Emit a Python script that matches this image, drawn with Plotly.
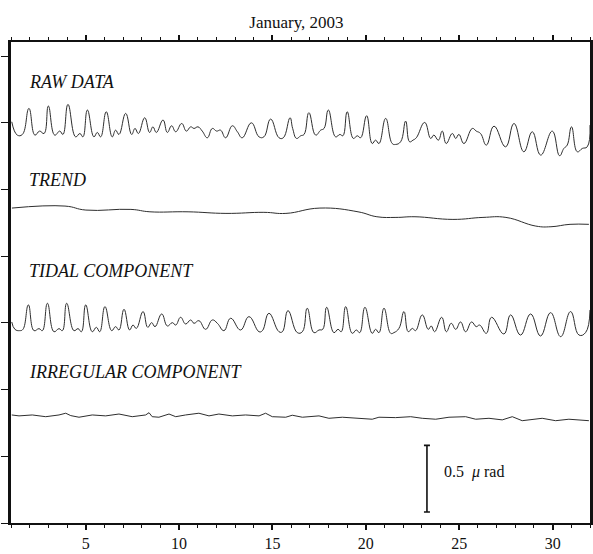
import plotly.graph_objects as go

# ---- data: day of January 2003 and tilt (micro-radian) for each series ----
raw_t = [1.04, 1.34, 1.61, 1.96, 2.28, 2.53, 2.77, 3.00, 3.34, 3.61, 3.78, 4.05,
         4.46, 4.69, 4.85, 5.09, 5.44, 5.62, 5.80, 6.10, 6.42, 6.60, 6.78, 7.14,
         7.46, 7.64, 7.82, 8.16, 8.42, 8.60, 8.78, 9.14, 9.37, 9.60, 9.82, 10.14,
         10.39, 10.62, 10.80, 11.01, 11.24, 11.51, 11.78, 12.01, 12.22, 12.49,
         12.85, 13.12, 13.38, 13.87, 14.28, 14.54, 14.90, 15.35, 15.58, 15.94,
         16.08, 16.29, 16.51, 16.69, 16.95, 17.31, 17.58, 17.76, 17.99, 18.38,
         18.61, 18.77, 19.00, 19.33, 19.54, 19.72, 20.04, 20.34, 20.52, 20.70,
         21.06, 21.41, 21.59, 21.86, 22.13, 22.34, 22.52, 22.70, 23.15, 23.47,
         23.64, 23.88, 24.09, 24.30, 24.63, 24.81, 24.98, 25.25, 25.70, 25.91,
         26.14, 26.45, 26.86, 27.48, 27.93, 28.46, 28.91, 29.36, 29.98, 30.37,
         30.60, 30.78, 31.01, 31.32, 31.59, 31.85, 32.00]
raw_v = [-0.005, -0.105, -0.100, 0.095, -0.105, -0.075, -0.093, 0.113, -0.105,
         -0.075, -0.100, 0.125, -0.118, -0.093, -0.118, 0.083, -0.118, -0.085,
         -0.118, 0.070, -0.118, -0.068, -0.100, 0.058, -0.100, -0.055, -0.093,
         0.025, -0.085, -0.043, -0.085, 0.008, -0.085, -0.035, -0.080, -0.018,
         -0.075, -0.043, -0.055, -0.043, -0.075, -0.125, -0.055, -0.075, -0.068,
         -0.125, -0.035, -0.080, -0.125, -0.013, -0.118, -0.118, 0.015, -0.125,
         -0.125, 0.025, -0.055, -0.130, -0.110, -0.100, 0.063, -0.105, -0.068,
         -0.055, 0.083, -0.118, -0.100, -0.110, 0.070, -0.130, -0.110, -0.125,
         0.040, -0.168, -0.143, -0.168, 0.020, -0.168, -0.175, -0.155, 0.000,
         -0.155, -0.143, -0.125, -0.010, -0.130, -0.105, -0.143, -0.075, -0.168,
         -0.093, -0.130, -0.100, -0.168, -0.055, -0.075, -0.093, -0.180, -0.038,
         -0.193, -0.018, -0.230, -0.080, -0.255, -0.075, -0.260, -0.205, -0.180,
         -0.043, -0.230, -0.205, -0.193, -0.030]

trend_t = [1.05, 3.89, 5.01, 7.42, 8.44, 10.48, 12.51, 14.54, 15.72, 17.54,
           19.58, 20.59, 21.61, 22.63, 24.66, 26.27, 27.50, 29.10, 29.91, 30.93,
           31.94]
trend_v = [0.000, 0.015, -0.015, -0.010, -0.028, -0.028, -0.040, -0.032, -0.040,
           0.000, -0.028, -0.065, -0.070, -0.065, -0.085, -0.070, -0.070, -0.135,
           -0.140, -0.122, -0.122]

tidal_t = [1.04, 1.21, 1.46, 1.64, 1.93, 2.23, 2.50, 2.68, 2.95, 3.30, 3.57, 3.75,
           3.98, 4.37, 4.59, 4.77, 5.00, 5.35, 5.57, 5.75, 6.03, 6.39, 6.60, 6.78,
           7.05, 7.35, 7.53, 7.71, 8.07, 8.32, 8.53, 8.71, 9.07, 9.37, 9.64, 9.82,
           10.08, 10.35, 10.62, 10.80, 11.06, 11.42, 11.78, 12.05, 12.40, 12.76,
           13.29, 13.74, 14.28, 14.46, 14.81, 15.35, 15.53, 15.83, 16.33, 16.60,
           16.86, 17.22, 17.49, 17.69, 17.90, 18.29, 18.51, 18.68, 18.92, 19.27,
           19.49, 19.67, 19.95, 20.34, 20.52, 20.70, 20.97, 21.33, 21.50, 21.77,
           22.04, 22.27, 22.49, 22.66, 23.02, 23.34, 23.50, 23.68, 24.06, 24.31,
           24.57, 24.81, 25.07, 25.34, 25.66, 25.91, 26.09, 26.45, 26.73, 27.39,
           27.75, 28.28, 28.82, 29.35, 29.89, 30.43, 30.96, 31.41, 31.76, 32.00]
tidal_v = [0.000, -0.055, -0.065, -0.055, 0.128, -0.065, -0.050, -0.065, 0.140,
           -0.073, -0.050, -0.065, 0.140, -0.065, -0.050, -0.073, 0.128, -0.073,
           -0.040, -0.073, 0.115, -0.065, -0.035, -0.060, 0.095, -0.060, -0.023,
           -0.048, 0.078, -0.040, -0.005, -0.035, 0.060, -0.030, -0.005, -0.023,
           0.035, -0.015, 0.015, -0.010, 0.010, -0.055, 0.015, -0.010, -0.065,
           0.028, -0.060, 0.040, -0.073, -0.065, 0.065, -0.073, -0.073, 0.085,
           -0.080, -0.073, 0.103, -0.080, -0.060, -0.055, 0.110, -0.080, -0.055,
           -0.073, 0.115, -0.085, -0.060, -0.080, 0.110, -0.085, -0.055, -0.080,
           0.103, -0.085, -0.080, -0.048, 0.078, -0.073, -0.048, -0.065, 0.053,
           -0.055, -0.030, -0.073, 0.035, -0.073, -0.010, -0.055, 0.000, -0.073,
           0.000, -0.035, -0.023, -0.085, 0.035, -0.090, 0.053, -0.098, 0.060,
           -0.105, 0.070, -0.110, 0.078, -0.098, -0.080, 0.090]

irr_t = [1.04, 1.43, 2.14, 2.86, 3.57, 3.93, 4.20, 4.64, 5.35, 6.07, 6.78, 7.49,
         8.21, 8.39, 8.56, 8.92, 9.46, 9.82, 10.35, 11.06, 11.60, 12.13, 12.85,
         13.56, 14.28, 14.63, 14.99, 15.71, 16.06, 16.60, 17.49, 18.02, 18.74,
         19.45, 20.34, 20.70, 21.59, 22.40, 23.02, 23.74, 24.45, 25.34, 25.88,
         26.59, 27.30, 27.84, 28.37, 29.44, 30.16, 30.87, 31.23, 31.94]
irr_v = [0.015, 0.008, 0.015, 0.002, 0.015, 0.028, 0.010, -0.002, 0.015, 0.008,
         0.022, 0.002, 0.015, 0.032, 0.002, -0.002, 0.022, 0.002, 0.015, 0.028,
         0.008, 0.022, 0.008, 0.015, 0.008, 0.028, 0.002, -0.002, 0.013, -0.002,
         0.008, -0.010, -0.002, -0.010, -0.017, -0.002, -0.005, 0.002, -0.010,
         -0.017, -0.002, 0.002, -0.017, -0.010, -0.022, 0.002, -0.028, -0.010,
         -0.028, -0.017, -0.022, -0.028]

x_ticks = [5, 10, 15, 20, 25, 30]
scale_bar_value = 0.5  # micro-radian

# vertical placement of each stacked series (micro-radian)
RAW_BASE, TREND_BASE, TIDAL_BASE, IRR_BASE = 3.013, 2.361, 1.507, 0.795

FONT = "Liberation Serif"
INK = "#111111"
LINE = dict(color="#2e2e2e", width=1)

fig = go.Figure()


def add_series(t, v, base, shape):
    fig.add_trace(go.Scatter(
        x=t, y=[base + val for val in v], mode="lines",
        line=dict(shape=shape, smoothing=1.3, **LINE),
        hoverinfo="skip", showlegend=False))


add_series(raw_t, raw_v, RAW_BASE, "spline")
add_series(trend_t, trend_v, TREND_BASE, "spline")
add_series(tidal_t, tidal_v, TIDAL_BASE, "spline")
add_series(irr_t, irr_v, IRR_BASE, "linear")

# 0.5 micro-radian scale bar
bar_x, bar_y0 = 23.27, 0.082
fig.add_trace(go.Scatter(
    x=[bar_x], y=[bar_y0 + scale_bar_value / 2], mode="markers",
    marker=dict(size=1, color="rgba(0,0,0,0)"),
    error_y=dict(type="data", array=[scale_bar_value / 2], color=INK,
                 thickness=1.6, width=3),
    hoverinfo="skip", showlegend=False))

labels = [("RAW DATA", 3.306), ("TREND", 2.571),
          ("TIDAL COMPONENT", 1.889), ("IRREGULAR COMPONENT", 1.132)]
annotations = [dict(text=f"<i>{txt}</i>", x=1.86, y=y, xref="x", yref="y",
                    xanchor="left", yanchor="middle", showarrow=False,
                    font=dict(family=FONT, size=18, color=INK))
               for txt, y in labels]
annotations.append(dict(text="0.5  <i>μ</i> rad", x=24.05, y=bar_y0 + 0.3,
                        xref="x", yref="y", xanchor="left", yanchor="middle",
                        showarrow=False,
                        font=dict(family=FONT, size=16, color=INK)))

fig.update_layout(
    width=593, height=554,
    margin=dict(l=11, r=3, t=42, b=31, autoexpand=False),
    paper_bgcolor="white", plot_bgcolor="white",
    font=dict(family=FONT, color=INK),
    title=dict(text="January, 2003", x=0.5, xanchor="center",
               y=1 - 22 / 554, yanchor="middle",
               font=dict(family=FONT, size=17, color=INK)),
    annotations=annotations,
    xaxis=dict(range=[1, 32], tickmode="array", tickvals=x_ticks,
               ticks="outside", ticklen=5, tickwidth=1.5, tickcolor=INK,
               minor=dict(tickmode="linear", tick0=1, dtick=1, ticks="outside",
                          ticklen=3, tickwidth=1, tickcolor=INK),
               showline=True, linewidth=2, linecolor=INK, mirror="ticks",
               showgrid=False, zeroline=False, automargin=False,
               tickfont=dict(family=FONT, size=16, color=INK)),
    yaxis=dict(range=[0, 3.606], tickmode="linear", tick0=0, dtick=0.5,
               ticks="outside", ticklen=7, tickwidth=1.2, tickcolor=INK,
               showticklabels=False, showline=True, linewidth=2.5,
               linecolor=INK, mirror="ticks", showgrid=False,
               zeroline=False, automargin=False),
)

fig.write_html("out.html")
